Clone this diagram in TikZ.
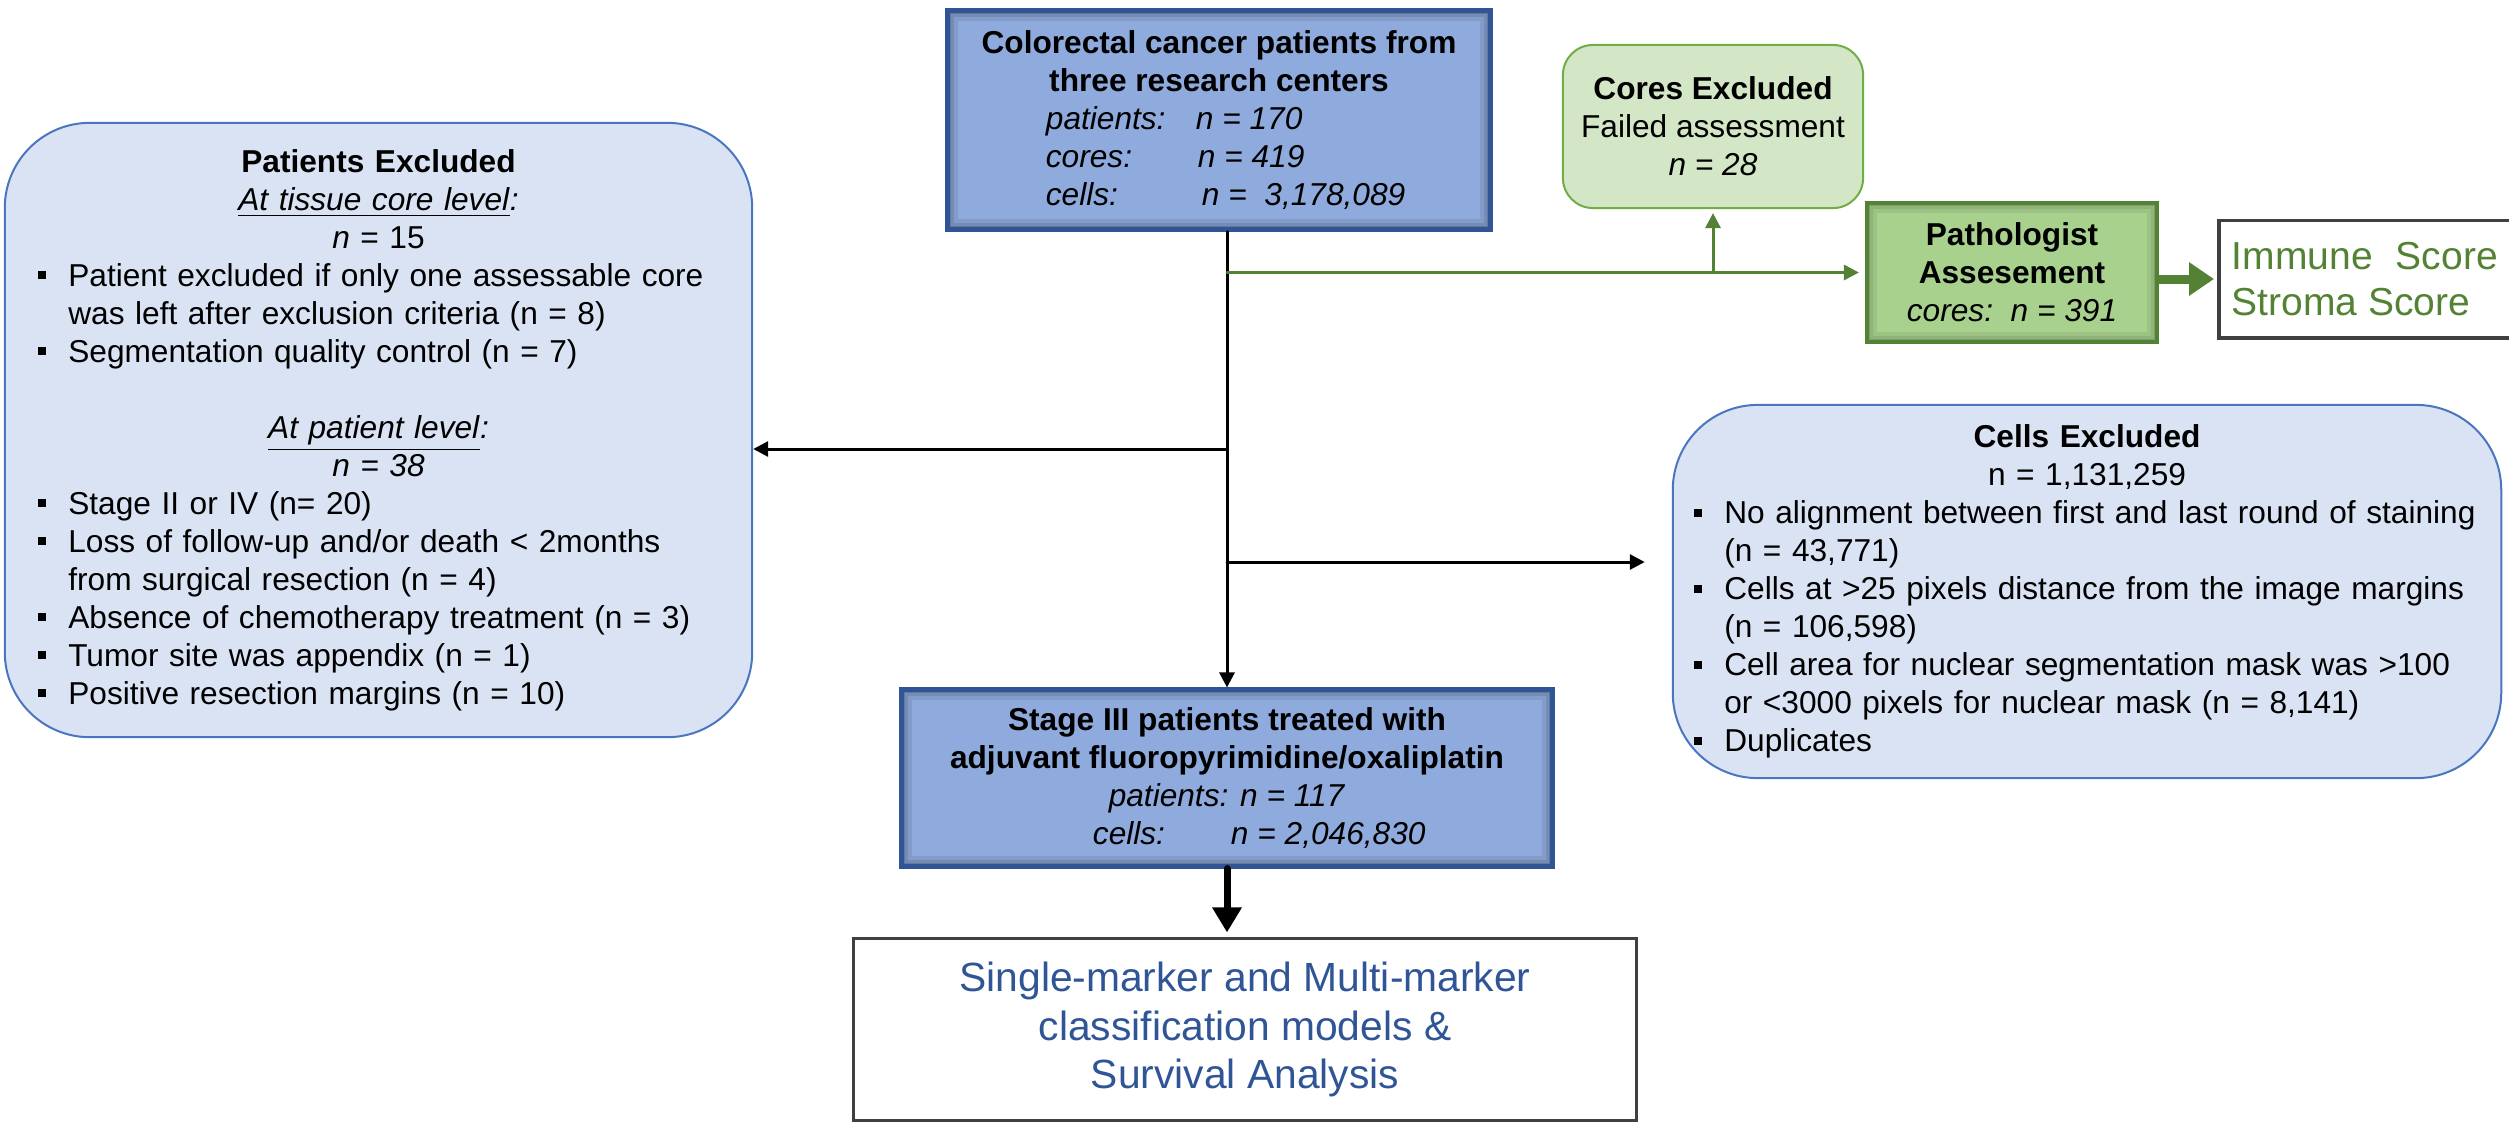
\documentclass[tikz,border=0pt]{standalone}
\usepackage{fontspec}
\setmainfont{Liberation Sans}
\usepackage{xcolor}
\usepackage{tikz}
\usetikzlibrary{calc,arrows.meta,positioning}

\definecolor{blueFill}{HTML}{8FAADC}
\definecolor{blueEdge}{HTML}{2F5597}
\definecolor{paleFill}{HTML}{DAE3F3}
\definecolor{paleEdge}{HTML}{4A76C0}
\definecolor{coreFill}{HTML}{D3E6C5}
\definecolor{coreEdge}{HTML}{70AD47}
\definecolor{pathFill}{HTML}{A9D18E}
\definecolor{pathEdge}{HTML}{548235}
\definecolor{gLine}{HTML}{548235}
\definecolor{outEdge}{HTML}{404040}
\definecolor{modelText}{HTML}{2F5597}

% 方块项目符号（悬挂缩进），换行用 \break
\newcommand{\sqitem}[1]{\par\noindent\hangindent=0.3cm\hangafter=1%
  \makebox[0.3cm][l]{\rule[0.07cm]{0.08cm}{0.08cm}}#1\par}

\tikzset{
  inshade/.style={path picture={
      \foreach \w/\o in {0.20/0.08,0.13/0.10,0.07/0.14}
        \draw[line width=\w cm, draw=#1, opacity=\o]
          (path picture bounding box.south west) rectangle (path picture bounding box.north east);}},
  mainbox/.style={draw=blueEdge, line width=0.05cm, fill=blueFill, align=center,
    inner sep=0pt, inshade=black},
  exclbox/.style={draw=paleEdge, line width=0.02cm, fill=paleFill, rounded corners=0.85cm,
    align=left, inner sep=0pt},
  corebox/.style={draw=coreEdge, line width=0.02cm, fill=coreFill, rounded corners=0.3cm,
    align=center, inner sep=0pt},
  pathbox/.style={draw=pathEdge, line width=0.04cm, fill=pathFill, align=center,
    inner sep=0pt, inshade=black!70!pathEdge},
  outbox/.style={draw=outEdge, line width=0.03cm, align=center, inner sep=0pt},
  flow/.style={line width=0.03cm, -{Triangle[length=0.15cm,width=0.15cm]}},
  gflow/.style={flow, draw=gLine, fill=gLine},
  fatflow/.style={line width=0.07cm, -{Triangle[length=0.25cm,width=0.28cm]}},
  gfatflow/.style={line width=0.09cm, draw=gLine, -{Triangle[length=0.25cm,width=0.32cm]}}
}

\begin{document}
\begin{tikzpicture}[x=0.01cm, y=-0.01cm, line cap=round,
    font=\fontsize{9pt}{10.8pt}\selectfont]

  \useasboundingbox (0,0) rectangle (2509,1123);

  %====================
  % 1) 中央主干：起始队列与 III 期队列
  %====================
  \node[mainbox, minimum width=5.42cm, minimum height=2.18cm] (src) at (1219,120) {%
    \textbf{Colorectal cancer patients from}\\
    \textbf{three research centers}\\
    \makebox[3.46cm][l]{\makebox[1.50cm][l]{\textit{patients:}}\textit{n = 170}}\\
    \makebox[3.46cm][l]{\makebox[1.52cm][l]{\textit{cores:}}\textit{n = 419}}\\
    \makebox[3.46cm][l]{\makebox[1.56cm][l]{\textit{cells:}}\textit{n =\ \ 3,178,089}}};

  \node[mainbox, minimum width=6.50cm, minimum height=1.76cm] (stage) at (1227,778) {%
    \textbf{Stage III patients treated with}\\
    \textbf{adjuvant fluoropyrimidine/oxaliplatin}\\
    \textit{patients: n = 117}\\
    \makebox[2.68cm][l]{\makebox[1.38cm][l]{\textit{cells:}}\textit{n = 2,046,830}}};

  \node[outbox, minimum width=7.82cm, minimum height=1.81cm, text=modelText,
    font=\fontsize{11.6pt}{13.9pt}\selectfont] (model) at (1245,1029.5) {%
    Single-marker and Multi-marker\\
    classification models \&\\
    Survival Analysis};

  %====================
  % 2) 左侧：患者排除
  %====================
  \node[exclbox, minimum width=7.47cm, minimum height=6.14cm, text width=6.80cm]
    (patex) at (378.5,430) {%
    {\centering\textbf{Patients Excluded}\\
      \underline{\textit{At tissue core level}}\textit{:}\\
      \textit{n} = 15\par}
    \sqitem{Patient excluded if only one assessable core\break was left after exclusion criteria (n = 8)}
    \sqitem{Segmentation quality control (n = 7)}
    {\centering\mbox{}\\
      \underline{\textit{At patient level}}\textit{:}\\
      \textit{n = 38}\par}
    \sqitem{Stage II or IV (n= 20)}
    \sqitem{Loss of follow-up and/or death < 2months\break from surgical resection (n = 4)}
    \sqitem{Absence of chemotherapy treatment (n = 3)}
    \sqitem{Tumor site was appendix (n = 1)}
    \sqitem{Positive resection margins (n = 10)}};

  %====================
  % 3) 右侧：细胞排除
  %====================
  \node[exclbox, minimum width=8.28cm, minimum height=3.73cm, text width=7.85cm]
    (cellex) at (2087,591.5) {%
    {\centering\textbf{Cells Excluded}\\
      n = 1,131,259\par}
    \sqitem{No alignment between first and last round of staining\break (n = 43,771)}
    \sqitem{Cells at >25 pixels distance from the image margins\break (n = 106,598)}
    \sqitem{Cell area for nuclear segmentation mask was >100\break or <3000 pixels for nuclear mask (n = 8,141)}
    \sqitem{Duplicates}};

  %====================
  % 4) 上方绿色分支：病理评估
  %====================
  \node[corebox, minimum width=3.00cm, minimum height=1.63cm] (corex) at (1713,126.5) {%
    \textbf{Cores Excluded}\\
    Failed assessment\\
    \textit{n = 28}};

  \node[pathbox, minimum width=2.90cm, minimum height=1.39cm] (patho) at (2012,272.5) {%
    \textbf{Pathologist}\\
    \textbf{Assesement}\\
    \textit{cores:\ \ n = 391}};

  \node[anchor=west, minimum width=2.90cm, minimum height=1.16cm, align=left,
    text=gLine, font=\fontsize{11.1pt}{13.3pt}\selectfont] (score) at (2219,279) {%
    \makebox[2.66cm][s]{Immune Score}\\
    Stroma Score};
  \draw[outEdge, line width=0.035cm]
    (score.north east) -- (score.north west) -- (score.south west) -- (score.south east);

  %====================
  % 5) 连接线
  %====================
  \coordinate (trunk) at (stage.north |- src.south);
  \coordinate (jG) at (stage.north |- patho.west);
  \coordinate (jL) at (stage.north |- 0,449);
  \coordinate (jR) at (stage.north |- 0,562);

  \draw[flow] (trunk) -- (stage.north);
  \draw[flow] (jL) -- (jL -| patex.east);
  \draw[flow, shorten >=0.27cm] (jR) -- (jR -| cellex.west);

  \draw[gflow, shorten >=0.06cm] (jG) -- (patho.west);
  \draw[gflow, shorten >=0.04cm] (corex.south |- jG) -- (corex.south);
  \draw[gfatflow, shorten >=0.05cm] (patho.east |- score.west) -- (score.west);

  \draw[fatflow, shorten >=0.05cm] (stage.south) -- (stage.south |- model.north);

\end{tikzpicture}
\end{document}
